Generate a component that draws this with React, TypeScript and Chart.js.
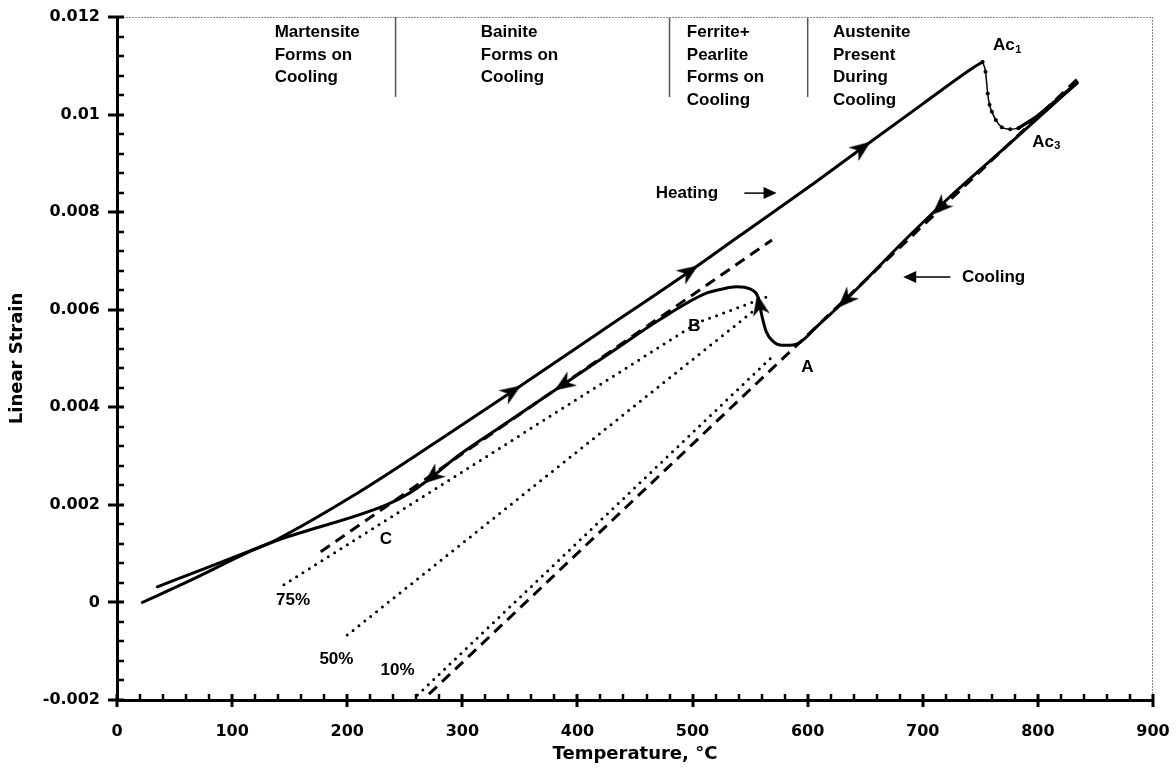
import React, { useEffect, useRef } from "react";
import { Chart, registerables } from "chart.js";

Chart.register(...registerables);

// ---------------- Data (temperature °C, linear strain) ----------------
const heatingT = [22, 60, 115, 138, 204, 280, 343, 420, 497, 540, 610, 647, 700, 745, 752];
const heatingStrain = [0, 0.00041, 0.00104, 0.00128, 0.00217, 0.00333, 0.00432, 0.00555, 0.00678, 0.0075, 0.00867, 0.00931, 0.01022, 0.01098, 0.01108];

const ac1DropT = [752, 754.5, 756.4, 758, 760, 763.4, 768.6, 775.9, 783];
const ac1DropStrain = [0.01108, 0.01088, 0.01043, 0.0102, 0.01006, 0.00989, 0.00974, 0.0097, 0.00972];

const heatingTopT = [783, 800, 818, 834];
const heatingTopStrain = [0.00972, 0.00998, 0.01033, 0.01065];

const coolingT = [834, 780, 722, 687.6, 633, 610, 592, 585, 578, 570, 564, 560, 557, 552, 545, 538, 525, 511, 471, 430, 389, 332, 296, 274, 254, 234, 140, 115, 80, 35];
const coolingStrain = [0.01065, 0.0095, 0.00828, 0.0075, 0.0062, 0.0057, 0.00531, 0.00527, 0.00527, 0.00535, 0.00555, 0.0059, 0.00625, 0.0064, 0.00646, 0.00647, 0.00642, 0.00633, 0.00579, 0.00514, 0.00449, 0.00358, 0.003, 0.00258, 0.00224, 0.002, 0.00128, 0.00105, 0.00073, 0.00032];

const dashUpperT = [177, 569];
const dashUpperStrain = [0.00104, 0.00743];
const dashAusteniteT = [271, 834];
const dashAusteniteStrain = [-0.00188, 0.01072];

const dot75T = [145, 505, 569];
const dot75Strain = [0.00036, 0.00574, 0.0063];
const dot50T = [200, 557.5];
const dot50Strain = [-0.00067, 0.00606];
const dot10T = [261, 572];
const dot10Strain = [-0.0019, 0.0051];

const heatArrowT = [343, 497, 647];
const heatArrowStrain = [0.00432, 0.00678, 0.00931];
const coolArrowT = [715, 633, 558, 388, 274];
const coolArrowStrain = [0.0081, 0.0062, 0.0061, 0.00447, 0.00258];

const dividerT = [242, 480, 600];
const dividerTopStrain = 0.012;
const dividerBottomStrain = 0.01036;

const regionLines = [
  ["Martensite", "Forms on", "Cooling"],
  ["Bainite", "Forms on", "Cooling"],
  ["Ferrite+", "Pearlite", "Forms on", "Cooling"],
  ["Austenite", "Present", "During", "Cooling"],
];
const regionLabelT = [137, 316, 495, 622];
const regionLabelStrain = 0.01168;

const markLabels = ["B", "A", "C", "75%", "50%", "10%"];
const markLabelT = [501.5, 599.8, 233.5, 152.9, 190.6, 243.7];
const markLabelStrain = [0.00567, 0.00481, 0.0013, 0.00004, -0.00117, -0.0014];

const acLabels = ["Ac", "Ac"];
const acSubscripts = ["1", "3"];
const acLabelT = [761, 795];
const acLabelStrain = [0.01141, 0.00944];

const heatingNote = "Heating";
const heatingNoteT = 468;
const heatingArrowT = [545, 573];
const heatingNoteStrain = 0.00839;

const coolingNote = "Cooling";
const coolingNoteT = 734;
const coolingArrowT = [683, 724];
const coolingNoteStrain = 0.00667;

const xMin = 0, xMax = 900, xStep = 100, xMinor = 20;
const yMin = -0.002, yMax = 0.012, yStep = 0.002, yMinor = 0.0004;

// ---------------- helpers ----------------
const pts = (xs: number[], ys: number[]) => xs.map((x, i) => ({ x, y: ys[i] }));

const ANN_FONT = 'bold 17px "Liberation Sans", Arial, sans-serif';
const AXIS_FAMILY = '"DejaVu Sans", sans-serif';

function makeArrowHead(): HTMLCanvasElement {
  const c = document.createElement("canvas");
  c.width = 18;
  c.height = 22;
  const g = c.getContext("2d")!;
  g.fillStyle = "#000";
  g.beginPath();
  g.moveTo(9, 0);
  g.lineTo(17.5, 21.5);
  g.lineTo(9, 15);
  g.lineTo(0.5, 21.5);
  g.closePath();
  g.fill();
  return c;
}

function arrowRotation(curveT: number[], curveS: number[]) {
  return (ctx: any) => {
    const chart = ctx.chart;
    const xs = chart.scales.x;
    const ys = chart.scales.y;
    const raw = ctx.raw;
    if (!raw || !xs || !ys) return 0;
    const px = xs.getPixelForValue(raw.x);
    const py = ys.getPixelForValue(raw.y);
    let best = 0;
    let bd = Infinity;
    for (let i = 0; i < curveT.length - 1; i++) {
      const ax = xs.getPixelForValue(curveT[i]);
      const ay = ys.getPixelForValue(curveS[i]);
      const bx = xs.getPixelForValue(curveT[i + 1]);
      const by = ys.getPixelForValue(curveS[i + 1]);
      const dx = bx - ax, dy = by - ay;
      const l2 = dx * dx + dy * dy || 1;
      let t = ((px - ax) * dx + (py - ay) * dy) / l2;
      t = Math.max(0, Math.min(1, t));
      const qx = ax + t * dx - px, qy = ay + t * dy - py;
      const d = qx * qx + qy * qy;
      if (d < bd) { bd = d; best = i; }
    }
    const dx = xs.getPixelForValue(curveT[best + 1]) - xs.getPixelForValue(curveT[best]);
    const dy = ys.getPixelForValue(curveS[best + 1]) - ys.getPixelForValue(curveS[best]);
    return (Math.atan2(dx, -dy) * 180) / Math.PI;
  };
}

const decorPlugin = {
  id: "decor",
  afterDraw(chart: any) {
    const { ctx, chartArea: a } = chart;
    const xs = chart.scales.x;
    const ys = chart.scales.y;
    ctx.save();

    // frame (top / right)
    ctx.strokeStyle = "#8a8a8a";
    ctx.lineWidth = 1;
    ctx.setLineDash([2, 1]);
    ctx.beginPath();
    ctx.moveTo(a.left, a.top + 0.5);
    ctx.lineTo(a.right - 0.5, a.top + 0.5);
    ctx.lineTo(a.right - 0.5, a.bottom);
    ctx.stroke();
    ctx.setLineDash([]);

    // ticks
    ctx.strokeStyle = "#000";
    const nx = Math.round((xMax - xMin) / xMinor);
    for (let k = 0; k <= nx; k++) {
      const v = xMin + k * xMinor;
      const p = Math.round(xs.getPixelForValue(v));
      const major = k % Math.round(xStep / xMinor) === 0;
      ctx.lineWidth = major ? 3 : 2.5;
      ctx.beginPath();
      ctx.moveTo(p, a.bottom - 6);
      ctx.lineTo(p, major ? a.bottom + 7 : a.bottom);
      ctx.stroke();
    }
    const ny = Math.round((yMax - yMin) / yMinor);
    for (let k = 0; k <= ny; k++) {
      const v = yMin + k * yMinor;
      const p = Math.round(ys.getPixelForValue(v));
      const major = k % Math.round(yStep / yMinor) === 0;
      ctx.lineWidth = major ? 3 : 2.5;
      ctx.beginPath();
      ctx.moveTo(major ? a.left - 9 : a.left, p);
      ctx.lineTo(a.left + 7, p);
      ctx.stroke();
    }

    // texts
    ctx.fillStyle = "#000";
    ctx.font = ANN_FONT;
    ctx.textBaseline = "middle";
    ctx.textAlign = "left";
    regionLines.forEach((lines, i) => {
      const x = xs.getPixelForValue(regionLabelT[i]);
      const y0 = ys.getPixelForValue(regionLabelStrain);
      lines.forEach((ln, j) => ctx.fillText(ln, x, y0 + j * 22.5));
    });

    ctx.textAlign = "center";
    markLabels.forEach((t, i) => {
      ctx.fillText(t, xs.getPixelForValue(markLabelT[i]), ys.getPixelForValue(markLabelStrain[i]));
    });

    ctx.textAlign = "left";
    acLabels.forEach((t, i) => {
      const x = xs.getPixelForValue(acLabelT[i]);
      const y = ys.getPixelForValue(acLabelStrain[i]);
      ctx.font = ANN_FONT;
      ctx.fillText(t, x, y);
      const w = ctx.measureText(t).width;
      ctx.font = 'bold 11px "Liberation Sans", Arial, sans-serif';
      ctx.fillText(acSubscripts[i], x + w + 0.5, y + 4);
    });

    // Heating note with arrow
    ctx.font = ANN_FONT;
    const hy = ys.getPixelForValue(heatingNoteStrain);
    ctx.fillText(heatingNote, xs.getPixelForValue(heatingNoteT), hy);
    const hx1 = xs.getPixelForValue(heatingArrowT[0]);
    const hx2 = xs.getPixelForValue(heatingArrowT[1]);
    ctx.lineWidth = 1.5;
    ctx.beginPath();
    ctx.moveTo(hx1, hy);
    ctx.lineTo(hx2 - 10, hy);
    ctx.stroke();
    ctx.beginPath();
    ctx.moveTo(hx2, hy);
    ctx.lineTo(hx2 - 13, hy - 6);
    ctx.lineTo(hx2 - 13, hy + 6);
    ctx.closePath();
    ctx.fill();

    // Cooling note with arrow
    const cy = ys.getPixelForValue(coolingNoteStrain);
    ctx.fillText(coolingNote, xs.getPixelForValue(coolingNoteT), cy);
    const cx1 = xs.getPixelForValue(coolingArrowT[0]);
    const cx2 = xs.getPixelForValue(coolingArrowT[1]);
    ctx.beginPath();
    ctx.moveTo(cx1 + 10, cy);
    ctx.lineTo(cx2, cy);
    ctx.stroke();
    ctx.beginPath();
    ctx.moveTo(cx1, cy);
    ctx.lineTo(cx1 + 13, cy - 6);
    ctx.lineTo(cx1 + 13, cy + 6);
    ctx.closePath();
    ctx.fill();

    ctx.restore();
  },
};

export default function App() {
  const ref = useRef<HTMLCanvasElement>(null);

  useEffect(() => {
    const canvas = ref.current;
    if (!canvas) return;
    const arrowImg = makeArrowHead();

    const solid = (data: any[], width = 3) => ({
      data,
      showLine: true,
      borderColor: "#000",
      backgroundColor: "#000",
      borderWidth: width,
      pointRadius: 0,
      cubicInterpolationMode: "monotone" as const,
      borderCapStyle: "round" as const,
      borderJoinStyle: "round" as const,
    });
    const dashed = (data: any[]) => ({
      data,
      showLine: true,
      borderColor: "#000",
      borderWidth: 3,
      pointRadius: 0,
      borderDash: [11, 7],
    });
    const dotted = (data: any[]) => ({
      data,
      showLine: true,
      borderColor: "#000",
      borderWidth: 3,
      pointRadius: 0,
      borderDash: [0, 7.5],
      borderCapStyle: "round" as const,
    });

    const datasets: any[] = [
      solid(pts(heatingT, heatingStrain)),
      {
        data: pts(ac1DropT, ac1DropStrain),
        showLine: true,
        borderColor: "#000",
        borderWidth: 1.5,
        pointRadius: 2,
        pointBorderWidth: 0,
        pointBackgroundColor: "#000",
        cubicInterpolationMode: "monotone",
      },
      solid(pts(heatingTopT, heatingTopStrain), 3.5),
      solid(pts(coolingT, coolingStrain)),
      dashed(pts(dashUpperT, dashUpperStrain)),
      dashed(pts(dashAusteniteT, dashAusteniteStrain)),
      dotted(pts(dot75T, dot75Strain)),
      dotted(pts(dot50T, dot50Strain)),
      dotted(pts(dot10T, dot10Strain)),
      ...dividerT.map((t) => ({
        data: [
          { x: t, y: dividerTopStrain },
          { x: t, y: dividerBottomStrain },
        ],
        showLine: true,
        borderColor: "#555",
        borderWidth: 1.5,
        pointRadius: 0,
      })),
      {
        data: pts(heatArrowT, heatArrowStrain),
        showLine: false,
        pointStyle: arrowImg,
        pointRadius: 9,
        rotation: arrowRotation(heatingT, heatingStrain),
      },
      {
        data: pts(coolArrowT, coolArrowStrain),
        showLine: false,
        pointStyle: arrowImg,
        pointRadius: 9,
        rotation: arrowRotation(coolingT, coolingStrain),
      },
    ];

    const chart = new Chart(canvas, {
      type: "scatter",
      data: { datasets },
      plugins: [decorPlugin],
      options: {
        animation: false,
        responsive: false,
        devicePixelRatio: 1,
        events: [],
        layout: { padding: { left: 0, right: 23, top: 17, bottom: 0 } },
        plugins: { legend: { display: false }, tooltip: { enabled: false } },
        scales: {
          x: {
            type: "linear",
            min: xMin,
            max: xMax,
            afterFit: (s: any) => { s.height = 81; s.paddingLeft = 0; s.paddingRight = 0; },
            grid: { display: false, drawTicks: false },
            border: { display: true, color: "#000", width: 3 },
            ticks: {
              stepSize: xStep,
              autoSkip: false,
              maxRotation: 0,
              padding: 22,
              color: "#000",
              font: { family: AXIS_FAMILY, size: 16, weight: "bold" },
              callback: (v: any) => String(Math.round(Number(v))),
            },
            title: {
              display: true,
              text: "Temperature, °C",
              color: "#000",
              font: { family: AXIS_FAMILY, size: 18, weight: "bold" },
              padding: { top: 0, bottom: 16 },
            },
          },
          y: {
            type: "linear",
            min: yMin,
            max: yMax,
            afterFit: (s: any) => { s.width = 117; s.paddingTop = 0; s.paddingBottom = 0; },
            grid: { display: false, drawTicks: false },
            border: { display: true, color: "#000", width: 3 },
            ticks: {
              stepSize: yStep,
              padding: 17,
              color: "#000",
              font: { family: AXIS_FAMILY, size: 16, weight: "bold" },
              callback: (v: any) => String(parseFloat(Number(v).toFixed(3))),
            },
            title: {
              display: true,
              text: "Linear Strain",
              color: "#000",
              font: { family: AXIS_FAMILY, size: 18, weight: "bold" },
              padding: { top: 6.7, bottom: 0 },
            },
          },
        },
      } as any,
    });

    return () => chart.destroy();
  }, []);

  return (
    <canvas
      ref={ref}
      width={1176}
      height={781}
      style={{ position: "absolute", left: 0, top: 0, width: 1176, height: 781, display: "block", background: "#fff" }}
    />
  );
}
